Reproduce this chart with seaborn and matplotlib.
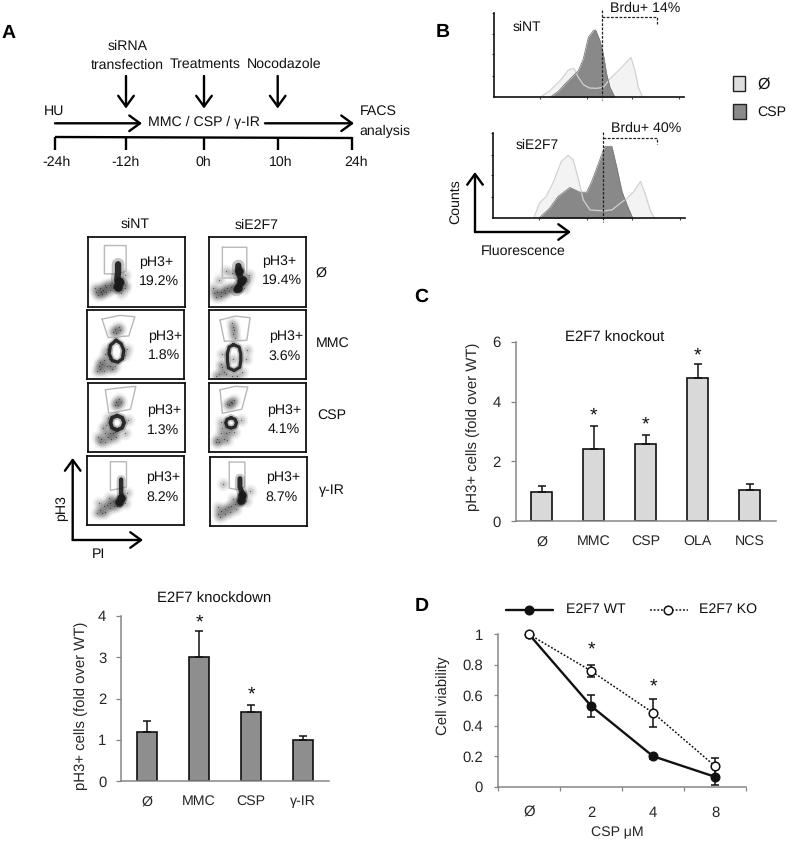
import numpy as np
import pandas as pd
import matplotlib
matplotlib.use("Agg")
import matplotlib.pyplot as plt
from matplotlib.patches import Rectangle
import seaborn as sns

# knockdown bars
kd_cats = ["Ø", "MMC", "CSP", "γ-IR"]
kd_vals = [1.18, 3.0, 1.68, 0.99]
kd_err = [0.28, 0.63, 0.17, 0.10]
kd_ticks = [0, 1, 2, 3, 4]

# knockout bars
ko_cats = ["Ø", "MMC", "CSP", "OLA", "NCS"]
ko_vals = [0.98, 2.4, 2.58, 4.8, 1.05]
ko_err = [0.19, 0.77, 0.30, 0.45, 0.18]
ko_ticks = [0, 2, 4, 6]

# viability lines
dose_cats = ["Ø", "2", "4", "8"]
wt_vals = [1, 0.53, 0.2, 0.065]
wt_err = [0, 0.07, 0.015, 0.055]
kodose_vals = [1, 0.76, 0.485, 0.135]
kodose_err = [0, 0.04, 0.09, 0.055]
via_ticks = [0, 0.2, 0.4, 0.6, 0.8, 1]
via_labels = ["0", "0.2", "0.4", "0.6", "0.8", "1"]

# histograms (position, height)
nt_ctrl_x = [330, 360, 395, 415, 432, 445, 460, 478, 500, 520, 540, 560, 580, 603, 615, 625, 638]
nt_ctrl_y = [0, 20, 55, 82, 87, 60, 38, 28, 27, 30, 55, 75, 95, 120, 80, 30, 0]
nt_csp_x = [360, 385, 405, 425, 445, 460, 475, 490, 497, 510, 520, 530, 540, 555]
nt_csp_y = [0, 18, 40, 60, 80, 115, 180, 200, 202, 170, 130, 70, 30, 0]
e2_ctrl_x = [313, 330, 350, 370, 395, 415, 430, 445, 460, 480, 520, 545, 570, 590, 610, 630, 645, 660, 672]
e2_ctrl_y = [0, 45, 65, 105, 170, 188, 175, 120, 55, 25, 22, 25, 45, 60, 80, 110, 70, 20, 0]
e2_csp_x = [328, 360, 385, 420, 450, 470, 485, 500, 520, 525, 545, 560, 575, 590, 607]
e2_csp_y = [0, 30, 65, 92, 78, 78, 110, 150, 205, 215, 215, 150, 80, 40, 0]

# flow plots: dense parts (traced in order), bulges, scattered events and gates
a_core = [(90, 80), (90, 92), (90, 105), (88, 118), (88, 130), (95, 130), (100, 135), (90, 140), (85, 145), (90, 150)]
a_blob = [(92, 128), (90, 145)]
a_spray = [(25, 160), (35, 150), (45, 155), (55, 145), (65, 140), (72, 135), (30, 170), (42, 168), (55, 160), (65, 155),
           (22, 150), (75, 150), (110, 110), (112, 140), (110, 150), (100, 165), (50, 140), (38, 160)]
a_gate = [(49, 25), (114, 25), (114, 100), (90, 108), (49, 108), (49, 25)]

b_core = [(87, 90), (102, 100), (110, 120), (106, 145), (92, 155), (75, 150), (66, 130), (70, 105), (87, 90)]
b_blob = []
b_spray = [(85, 55), (95, 50), (78, 65), (88, 68), (100, 58), (50, 150), (60, 165), (40, 175), (45, 160), (70, 165),
           (65, 145), (55, 130), (40, 155), (30, 180), (75, 175), (85, 165), (115, 135), (120, 115), (60, 115), (35, 165), (50, 180)]
b_gate = [(45, 27), (98, 16), (143, 20), (125, 77), (63, 82), (45, 27)]

c_core = [(87, 97), (102, 103), (108, 118), (102, 133), (87, 140), (72, 133), (67, 118), (72, 103), (87, 97)]
c_blob = []
c_spray = [(85, 55), (92, 48), (80, 65), (90, 65), (100, 55), (80, 145), (65, 150), (40, 165), (50, 150), (60, 160), (45, 135),
           (55, 125), (35, 175), (70, 165), (75, 150), (50, 175), (110, 150), (120, 110), (60, 105), (30, 160), (85, 160)]
c_gate = [(52, 20), (90, 15), (143, 10), (127, 78), (62, 90), (52, 20)]

d_core = [(102, 70), (102, 82), (102, 95), (102, 108), (104, 120), (108, 125), (104, 130), (100, 135), (95, 140)]
d_blob = [(101, 125), (97, 136)]
d_spray = [(40, 160), (50, 150), (60, 145), (70, 140), (78, 135), (85, 130), (45, 170), (55, 165), (68, 155), (35, 140),
           (80, 150), (90, 150), (115, 140), (120, 110), (65, 125), (30, 170)]
d_gate = [(70, 17), (118, 17), (118, 92), (95, 97), (70, 102), (70, 17)]

e_core = [(88, 85), (88, 97), (90, 108), (95, 120), (105, 125), (100, 132), (92, 140), (88, 148), (82, 155)]
e_blob = [(90, 100), (97, 128), (88, 148)]
e_spray = [(15, 165), (25, 162), (35, 160), (45, 155), (55, 150), (65, 145), (75, 150), (20, 175), (35, 172), (48, 165),
           (60, 158), (12, 150), (115, 130), (120, 110), (105, 150), (30, 125), (50, 100), (70, 105)]
e_gate = [(40, 30), (113, 30), (113, 112), (83, 120), (40, 120), (40, 30)]

f_core = [(73, 103), (90, 110), (95, 130), (95, 150), (92, 170), (75, 180), (58, 172), (55, 150), (55, 130), (60, 110), (73, 103)]
f_blob = []
f_spray = [(73, 50), (75, 60), (72, 72), (78, 82), (70, 40), (73, 145), (40, 170), (30, 190), (45, 185), (35, 160),
           (50, 190), (100, 185), (110, 145), (40, 130), (20, 195), (70, 195), (115, 120), (85, 195)]
f_gate = [(33, 30), (78, 18), (123, 23), (113, 90), (46, 93), (33, 30)]

g_core = [(66, 103), (78, 108), (82, 118), (78, 130), (66, 134), (54, 130), (50, 118), (54, 108), (66, 103)]
g_blob = []
g_spray = [(55, 62), (65, 55), (75, 50), (60, 65), (70, 58), (35, 150), (25, 165), (40, 135), (50, 150), (30, 175),
           (45, 165), (60, 145), (20, 175), (75, 145), (95, 110), (35, 115), (55, 170)]
g_gate = [(33, 20), (78, 10), (116, 12), (98, 78), (40, 90), (33, 20)]

h_core = [(91, 65), (91, 78), (91, 90), (97, 105), (97, 115), (100, 120), (95, 125), (92, 135)]
h_blob = [(97, 112), (95, 128)]
h_spray = [(26, 170), (35, 160), (45, 155), (55, 150), (65, 145), (75, 140), (85, 135), (30, 178), (45, 170), (60, 165),
           (25, 150), (80, 155), (110, 130), (120, 100), (40, 80), (70, 125)]
h_gate = [(59, 16), (106, 16), (106, 88), (86, 98), (59, 93), (59, 16)]

flow_pct_nt = ["19.2%", "1.8%", "1.3%", "8.2%"]
flow_pct_e2 = ["19.4%", "3.6%", "4.1%", "8.7%"]
flow_rows = ["Ø", "MMC", "CSP", "γ-IR"]
timeline_ticks = ["-24h", "-12h", "0h", "10h", "24h"]

W, H = 796, 844
FS = 10.7
FS_SMALL = 10.2

sns.set_theme(style="white")
plt.rcParams["font.family"] = ["Liberation Sans", "DejaVu Sans"]
plt.rcParams["text.color"] = "#111111"
plt.rcParams["text.hinting"] = "no_hinting"

fig = plt.figure(figsize=(W / 100, H / 100), dpi=100)


def pax(x0, y0, x1, y1):
    # axes from pixel box, y measured from the top
    return fig.add_axes([x0 / W, 1 - y1 / H, (x1 - x0) / W, (y1 - y0) / H])


page = pax(0, 0, W, H)
page.set_xlim(0, W)
page.set_ylim(H, 0)
page.axis("off")
page.set_zorder(10)
page.patch.set_alpha(0)


def txt(x, y, s, **kw):
    kw.setdefault("fontsize", FS_SMALL)
    page.text(x, y, s, ha=kw.pop("ha", "center"), va="center", **kw)


def arrow(x0, y0, x1, y1, lw=1.7):
    page.annotate("", xy=(x1, y1), xytext=(x0, y0),
                  arrowprops=dict(arrowstyle="->,head_length=0.55,head_width=0.4", lw=lw, color="black",
                                  shrinkA=0, shrinkB=0, mutation_scale=14))


# panel letters
for s, x, y in [("A", 9, 33), ("B", 443, 32), ("C", 421, 297), ("D", 422, 606)]:
    txt(x, y, s, fontsize=14, fontweight="bold", color="black")

# timeline
for s, x, y in [("siRNA", 127.7, 46), ("transfection", 127.3, 65), ("Treatments", 205, 64.3), ("Nocodazole", 284.3, 64.3),
                ("HU", 54, 111.7), ("MMC / CSP / γ-IR", 204, 122.7), ("FACS", 378.3, 111), ("analysis", 385, 131.7)]:
    txt(x, y, s)
arrow(55, 123.3, 142, 123.3)
arrow(265, 123.3, 354, 123.3)
for x in [126, 204, 277.7]:
    arrow(x, 76, x, 108.5)
page.plot([55, 352.3], [137, 138], color="black", lw=1.7, solid_capstyle="butt")
for x, x_lab, s in zip([55, 126, 204, 278, 352], [56.7, 125.7, 203.7, 281, 356], timeline_ticks):
    page.plot([x, x], [137, 150], color="black", lw=1.7, solid_capstyle="butt")
    txt(x_lab, 162.7, s)

# flow plots
flow_boxes = [(88, 237, 185, 307), (87, 310, 184, 379), (88, 383, 185, 452), (87, 456, 184, 525),
              (209, 237, 306, 307), (209, 310, 306, 379), (209, 383, 306, 452), (209.5, 456.7, 306.5, 526)]
flow_data = [(a_core, a_blob, a_spray, a_gate, 4.6), (b_core, b_blob, b_spray, b_gate, 2.4),
             (c_core, c_blob, c_spray, c_gate, 2.8), (d_core, d_blob, d_spray, d_gate, 3.2),
             (e_core, e_blob, e_spray, e_gate, 4.6), (f_core, f_blob, f_spray, f_gate, 2.3),
             (g_core, g_blob, g_spray, g_gate, 2.4), (h_core, h_blob, h_spray, h_gate, 3.6)]
for box, (core, blob, spray, gate, core_lw) in zip(flow_boxes, flow_data):
    ax = pax(*box)
    core_x, core_y = zip(*core)
    spray_x, spray_y = zip(*spray)
    gate_x, gate_y = zip(*gate)
    ax.plot(gate_x, gate_y, color="#b8b8b8", lw=1.0)
    # soft cloud, stacked sizes so the single events do not show as discs
    for size, alpha in [(100, 0.05), (55, 0.08), (22, 0.13)]:
        sns.scatterplot(x=spray_x, y=spray_y, ax=ax, s=size, color="#333333", alpha=alpha, linewidth=0, legend=False)
    sns.scatterplot(x=spray_x, y=spray_y, ax=ax, s=1.0, color="black", alpha=0.5, linewidth=0, legend=False)
    ax.plot(core_x, core_y, color="#444444", alpha=0.3, lw=core_lw * 2.0, solid_capstyle="round", solid_joinstyle="round")
    ax.plot(core_x, core_y, color="#1a1a1a", alpha=0.9, lw=core_lw, solid_capstyle="round", solid_joinstyle="round")
    if blob:
        blob_x, blob_y = zip(*blob)
        sns.scatterplot(x=blob_x, y=blob_y, ax=ax, s=70, color="#444444", alpha=0.35, linewidth=0, legend=False)
        sns.scatterplot(x=blob_x, y=blob_y, ax=ax, s=38, color="#111111", linewidth=0, legend=False)
    ax.set_xlim(0, 290)
    ax.set_ylim(205, 0)
    ax.set_xticks([])
    ax.set_yticks([])
    ax.set_xlabel("")
    ax.set_ylabel("")
    for sp in ax.spines.values():
        sp.set_visible(True)
        sp.set_color("#111111")
        sp.set_linewidth(1.3)

nt_pos = [(156, 262, 159.3, 281), (165, 336.7, 164, 355.3), (164, 410, 163, 430), (162.7, 477.7, 162, 497.3)]
e2_pos = [(279.3, 261, 282.3, 280.7), (286, 336, 285, 356), (284.3, 410, 283.3, 429.3), (282.7, 477.7, 281.7, 497.3)]
for pos, pct in [(nt_pos, flow_pct_nt), (e2_pos, flow_pct_e2)]:
    for (x0, y0, x1, y1), s in zip(pos, pct):
        txt(x0, y0, "pH3+")
        txt(x1, y1, s)
for s, (x, y) in zip(flow_rows, [(320.7, 273.3), (333, 343.3), (331.7, 415), (331.7, 490)]):
    txt(x, y, s)
txt(135, 224, "siNT")
txt(256.7, 225, "siE2F7")
arrow(72.7, 540, 72.7, 458)
arrow(72.7, 540, 143, 540)
txt(61.7, 508.3, "pH3", rotation=90)
txt(98.3, 554, "PI")

# histograms
hist_boxes = [(494.3, 12.7, 684, 97.3), (493.3, 133.3, 685, 218.3)]
hist_data = [(nt_ctrl_x, nt_ctrl_y, nt_csp_x, nt_csp_y), (e2_ctrl_x, e2_ctrl_y, e2_csp_x, e2_csp_y)]
for box, (cx, cy, dx, dy) in zip(hist_boxes, hist_data):
    ax = pax(*box)
    ax.patch.set_alpha(0)
    ax.fill_between(cx, cy, color="#f3f3f3", lw=0)
    sns.lineplot(x=cx, y=cy, ax=ax, color="#d2d2d2", lw=0.9, sort=False, estimator=None)
    ax.fill_between(dx, dy, color="#808080", alpha=0.93, lw=0)
    sns.lineplot(x=dx, y=dy, ax=ax, color="#7a7a7a", lw=0.6, sort=False, estimator=None)
    ax.set_xlim(193, 762)
    ax.set_ylim(0, 254)
    ax.set_xticks([330, 472, 605, 748])
    ax.set_yticks([64, 129, 189, 254])
    ax.set_xticklabels([])
    ax.set_yticklabels([])
    ax.tick_params(bottom=True, left=True, length=1.6, width=0.8, color="#444444")
    sns.despine(ax=ax)
    for side in ["left", "bottom"]:
        ax.spines[side].set_color("#111111")
        ax.spines[side].set_linewidth(1.2)

txt(527, 27, "siNT", fontsize=10)
txt(537, 145, "siE2F7", fontsize=10)
txt(645, 8, "Brdu+ 14%")
txt(646, 128, "Brdu+ 40%")
dash = dict(color="#222222", lw=0.9, ls=(0, (2.2, 1.2)))
page.plot([601.7, 601.7], [10, 100], **dash)
page.plot([601.7, 656.7, 656.7], [17.3, 17.3, 23.5], **dash)
page.plot([603.3, 603.3], [132, 222], **dash)
page.plot([603.3, 657, 657], [137.7, 137.7, 144], **dash)
arrow(475, 232, 475, 172)
arrow(475, 232, 571, 232)
txt(456, 202, "Counts", rotation=90)
txt(523, 251, "Fluorescence")

page.add_patch(Rectangle((732.5, 76), 12.5, 15, fc="#dedede", ec="#222222", lw=1.0))
page.add_patch(Rectangle((733, 103.5), 12.5, 15, fc="#8a8a8a", ec="#222222", lw=1.0))
txt(764, 84, "Ø", fontsize=11.5)
txt(772, 112, "CSP")


def bar_panel(box, cats, vals, err, ticks, color, top):
    ax = pax(*box)
    df = pd.DataFrame({"cat": cats, "val": vals})
    sns.barplot(data=df, x="cat", y="val", color=color, saturation=1, width=0.4,
                edgecolor="#111111", linewidth=1.2, ax=ax)
    ax.errorbar(range(len(cats)), vals, yerr=[np.zeros(len(err)), err], fmt="none",
                ecolor="#111111", elinewidth=1.1, capsize=3.2, capthick=1.1)
    ax.set_xlim(-0.5, len(cats) - 0.5)
    ax.set_ylim(0, top)
    ax.set_yticks(ticks)
    ax.set_xlabel("")
    ax.set_ylabel("pH3+ cells (fold over WT)", fontsize=FS)
    ax.tick_params(axis="y", left=True, length=3.6, width=0.9, color="#868686", pad=7, labelsize=FS)
    ax.tick_params(axis="x", bottom=False, pad=4, labelsize=FS_SMALL)
    sns.despine(ax=ax)
    for side in ["left", "bottom"]:
        ax.spines[side].set_color("#868686")
        ax.spines[side].set_linewidth(1.1)
    return ax


ax_kd = bar_panel((121, 615.7, 329, 781.3), kd_cats, kd_vals, kd_err, kd_ticks, "#8e8e8e", 4)
ax_kd.yaxis.set_label_coords(-0.157, 0.455)
txt(214, 599, "E2F7 knockdown", fontsize=FS)
ax_kd.text(1, 3.84, "*", ha="center", va="center", fontsize=14)
ax_kd.text(2, 2.09, "*", ha="center", va="center", fontsize=14)

ax_ko = bar_panel((515.7, 341.7, 775.7, 521.3), ko_cats, ko_vals, ko_err, ko_ticks, "#d9d9d9", 6)
ax_ko.yaxis.set_label_coords(-0.137, 0.525)
txt(615, 337.7, "E2F7 knockout", fontsize=FS)
ax_ko.text(1, 3.52, "*", ha="center", va="center", fontsize=14)
ax_ko.text(2, 3.22, "*", ha="center", va="center", fontsize=14)
ax_ko.text(3, 5.53, "*", ha="center", va="center", fontsize=14)

# viability
ax_v = pax(498, 634.3, 746, 786.7)
xs = np.arange(len(dose_cats))
sns.lineplot(x=xs, y=kodose_vals, ax=ax_v, color="#111111", lw=1.1, ls=(0, (1.2, 1.2)), zorder=2)
sns.lineplot(x=xs, y=wt_vals, ax=ax_v, color="#111111", lw=1.7, zorder=3)
ax_v.errorbar(xs, wt_vals, yerr=wt_err, fmt="o", color="#111111", ms=6.2, elinewidth=1.1, capsize=3.2, capthick=1.1, zorder=4)
ax_v.errorbar(xs, kodose_vals, yerr=kodose_err, fmt="o", mfc="white", mec="#111111", ecolor="#111111", mew=1.1, ms=6.2,
              elinewidth=1.1, capsize=3.2, capthick=1.1, zorder=5, clip_on=False)
ax_v.set_xlim(-0.5, 3.5)
ax_v.set_ylim(0, 1)
ax_v.set_xticks(xs)
ax_v.set_xticklabels(dose_cats)
ax_v.set_xticks(np.arange(-0.5, 3.6, 1), minor=True)
ax_v.set_yticks(via_ticks)
ax_v.set_yticklabels(via_labels)
ax_v.tick_params(axis="x", which="major", bottom=False, pad=8, labelsize=FS)
ax_v.tick_params(axis="x", which="minor", bottom=True, length=3, width=0.9, color="#868686")
ax_v.tick_params(axis="y", left=True, length=3, width=0.9, color="#868686", pad=8, labelsize=FS)
ax_v.set_xlabel("CSP μM", fontsize=FS_SMALL)
ax_v.xaxis.set_label_coords(0.48, -0.26)
ax_v.set_ylabel("Cell viability", fontsize=FS)
ax_v.yaxis.set_label_coords(-0.195, 0.6)
sns.despine(ax=ax_v)
for side in ["left", "bottom"]:
    ax_v.spines[side].set_color("#868686")
    ax_v.spines[side].set_linewidth(1.1)
ax_v.text(1, 0.9, "*", ha="center", va="center", fontsize=14)
ax_v.text(2, 0.656, "*", ha="center", va="center", fontsize=14)

page.plot([506, 553], [610, 610], color="#111111", lw=1.7)
page.plot([529], [610], "o", color="#111111", ms=6.2)
page.plot([650, 688], [610, 610], color="#111111", lw=1.1, ls=(0, (1.2, 1.2)))
page.plot([668], [610], "o", mfc="white", mec="#111111", mew=1.1, ms=6.2)
txt(596, 609.5, "E2F7 WT")
txt(728, 609.5, "E2F7 KO")

fig.savefig("out.png", dpi=100)
